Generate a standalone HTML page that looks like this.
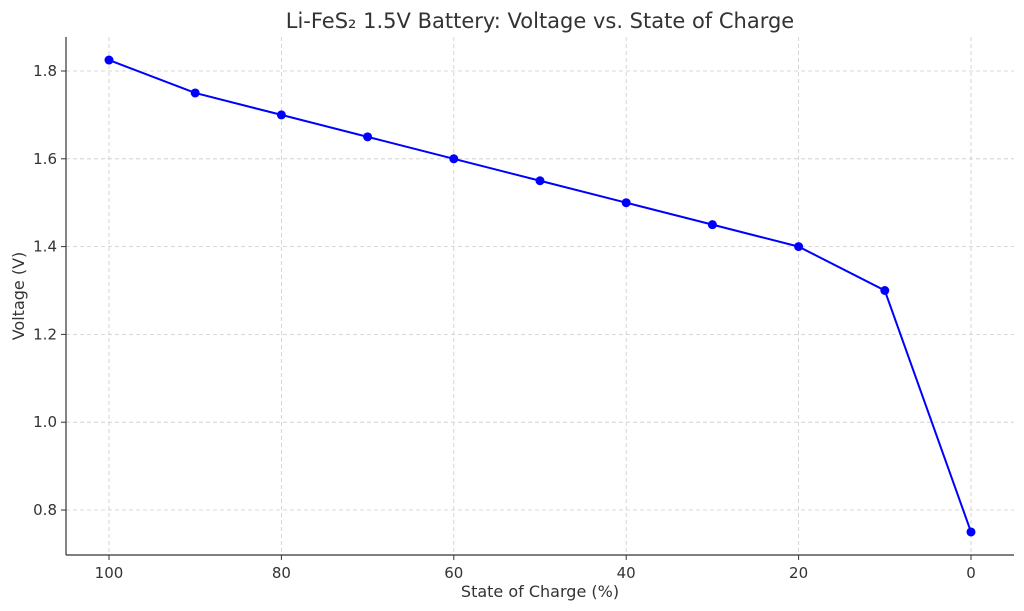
<!DOCTYPE html>
<html>
<head>
<meta charset="utf-8">
<style>
  html,body{margin:0;padding:0;background:#fff;}
  svg{display:block;font-family:"DejaVu Sans","Liberation Sans",sans-serif;}
</style>
</head>
<body>
<svg id="chart" width="1024" height="611" viewBox="0 0 1024 611">
  <text x="540" y="28" text-anchor="middle" font-size="21" fill="#333">Li-FeS₂ 1.5V Battery: Voltage vs. State of Charge</text>
  <g id="grid"></g>
  <g id="axes"></g>
  <g id="series"></g>
  <text x="540" y="597" text-anchor="middle" font-size="16" fill="#333">State of Charge (%)</text>
  <text transform="translate(24,296) rotate(-90)" text-anchor="middle" font-size="16" fill="#333">Voltage (V)</text>
</svg>
<script>
const soc = [100, 90, 80, 70, 60, 50, 40, 30, 20, 10, 0];
const voltage = [1.825, 1.75, 1.7, 1.65, 1.6, 1.55, 1.5, 1.45, 1.4, 1.3, 0.75];
const xTicks = [100, 80, 60, 40, 20, 0];
const yTicks = [0.8, 1.0, 1.2, 1.4, 1.6, 1.8];
const yTickLabels = ["0.8", "1.0", "1.2", "1.4", "1.6", "1.8"];

const L = 66, R = 1014, T = 37, B = 555;
function xs(v){ return 971 + (109 - 971) * (v - 0) / 100; }
function ys(v){ return 510 + (71 - 510) * (v - 0.8) / 1.0; }
const NS = "http://www.w3.org/2000/svg";
function mk(tag, attrs, parent){
  const e = document.createElementNS(NS, tag);
  for (const k in attrs) e.setAttribute(k, attrs[k]);
  parent.appendChild(e);
  return e;
}
const grid = document.getElementById('grid');
const axes = document.getElementById('axes');
const series = document.getElementById('series');

xTicks.forEach(t => {
  const x = xs(t);
  const g = mk('line', {x1:x, x2:x, y1:T, y2:B, stroke:'#ccc', 'stroke-width':0.8, 'stroke-dasharray':'4,3'}, grid);
  
  
  const tk = mk('line', {x1:x, x2:x, y1:B, y2:B+5, stroke:'#333', 'stroke-width':1}, axes);
  
  
  const lb = mk('text', {x:x, y:B+23, 'text-anchor':'middle', 'font-size':15, fill:'#333'}, axes);
  lb.textContent = String(t);
  
  
});
yTicks.forEach((t, i) => {
  const y = ys(t);
  const g = mk('line', {x1:L, x2:R, y1:y, y2:y, stroke:'#ccc', 'stroke-width':0.8, 'stroke-dasharray':'4,3'}, grid);
  
  
  const tk = mk('line', {x1:L-5, x2:L, y1:y, y2:y, stroke:'#333', 'stroke-width':1}, axes);
  
  
  const lb = mk('text', {x:L-9, y:y+5, 'text-anchor':'end', 'font-size':15, fill:'#333'}, axes);
  lb.textContent = yTickLabels[i];
  
  
});
const ly = mk('line', {x1:L, x2:L, y1:T, y2:B, stroke:'#333', 'stroke-width':1.2}, axes);


const lx = mk('line', {x1:L, x2:R, y1:B, y2:B, stroke:'#333', 'stroke-width':1.2}, axes);



const pts = soc.map((s, i) => xs(s) + ',' + ys(voltage[i])).join(' ');
const line = mk('polyline', {points:pts, fill:'none', stroke:'#0000ff', 'stroke-width':2}, series);


soc.forEach((s, i) => {
  const c = mk('circle', {cx:xs(s), cy:ys(voltage[i]), r:4.5, fill:'#0000ff'}, series);
  
  
});
</script>
</body>
</html>
